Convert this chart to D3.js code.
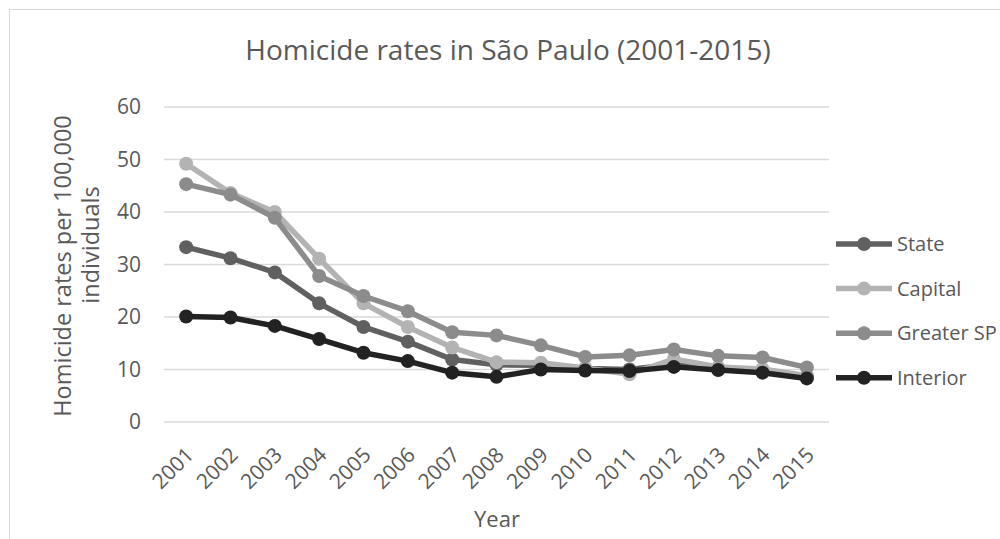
<!DOCTYPE html>
<html>
<head>
<meta charset="utf-8">
<script src="https://cdn.jsdelivr.net/npm/d3@7"></script>
<style>
  html, body { margin: 0; padding: 0; background: #ffffff; }
  svg { display: block; font-family: "Open Sans", sans-serif; }
</style>
</head>
<body>
<svg id="chart" width="1000" height="539"></svg>
<script>
// Homicide rates per 100,000 individuals, São Paulo, 2001-2015
const years = ["2001","2002","2003","2004","2005","2006","2007","2008","2009","2010","2011","2012","2013","2014","2015"];
const stateRates    = [33.3, 31.2, 28.5, 22.6, 18.1, 15.3, 11.9, 10.9, 10.8, 10.2, 10.0, 11.0, 10.3, 9.9, 8.7];
const capitalRates  = [49.2, 43.6, 40.0, 31.1, 22.6, 18.1, 14.2, 11.4, 11.3, 10.3, 9.1, 12.0, 10.5, 10.1, 8.8];
const greaterRates  = [45.3, 43.3, 38.9, 27.8, 24.0, 21.1, 17.1, 16.5, 14.6, 12.4, 12.7, 13.8, 12.6, 12.3, 10.4];
const interiorRates = [20.1, 19.9, 18.3, 15.8, 13.2, 11.6, 9.4, 8.6, 10.0, 9.8, 9.7, 10.5, 9.9, 9.4, 8.3];
const seriesNames = ["State", "Capital", "Greater SP", "Interior"];
const yTicks = [0, 10, 20, 30, 40, 50, 60];

const seriesColors = ["#606060", "#b3b3b3", "#8c8c8c", "#222222"];
const series = [stateRates, capitalRates, greaterRates, interiorRates].map((vals, i) => ({
  name: seriesNames[i],
  color: seriesColors[i],
  values: vals.map((v, j) => ({ year: years[j], value: v }))
}));

const svg = d3.select("#chart");
const textColor = "#595959";

// chart frame
svg.append("rect")
  .attr("x", 9.5).attr("y", 9.5)
  .attr("width", 1000).attr("height", 600)
  .attr("fill", "none").attr("stroke", "#d9d9d9").attr("stroke-width", 1);

const plot = { left: 164, right: 829, top: 107, bottom: 422 };

const x = d3.scalePoint().domain(years).range([plot.left, plot.right]).padding(0.5);
const y = d3.scaleLinear().domain([0, 60]).range([plot.bottom, plot.top]);

// horizontal gridlines
svg.append("g")
  .selectAll("line")
  .data(yTicks)
  .join("line")
  .attr("x1", plot.left).attr("x2", plot.right)
  .attr("y1", d => y(d)).attr("y2", d => y(d))
  .attr("stroke", "#d9d9d9").attr("stroke-width", 1.5);

// y axis labels
const yAxis = svg.append("g")
  .attr("transform", `translate(${plot.left - 23},0)`)
  .call(d3.axisLeft(y).tickValues(yTicks).tickSize(0).tickPadding(0));
yAxis.select(".domain").remove();
yAxis.selectAll("text")
  .attr("fill", textColor)
  .style("font-size", "21px")
  .style("font-family", "'Open Sans', sans-serif");

// x axis labels, rotated
const xAxis = svg.append("g")
  .attr("transform", `translate(0,${plot.bottom})`)
  .call(d3.axisBottom(x).tickSize(0).tickPadding(0));
xAxis.select(".domain").remove();
xAxis.selectAll("text")
  .attr("fill", textColor)
  .style("font-size", "21px")
  .style("font-family", "'Open Sans', sans-serif")
  .attr("text-anchor", "end")
  .attr("y", 0).attr("dy", "0.35em")
  .attr("transform", "translate(3,29) rotate(-45)");

// lines and markers
const line = d3.line().x(d => x(d.year)).y(d => y(d.value));
const seriesG = svg.append("g")
  .selectAll("g")
  .data(series)
  .join("g");
seriesG.append("path")
  .attr("d", d => line(d.values))
  .attr("fill", "none")
  .attr("stroke", d => d.color)
  .attr("stroke-width", 5.5)
  .attr("stroke-linejoin", "round")
  .attr("stroke-linecap", "round");
seriesG.selectAll("circle")
  .data(d => d.values.map(v => ({ ...v, color: d.color })))
  .join("circle")
  .attr("cx", d => x(d.year))
  .attr("cy", d => y(d.value))
  .attr("r", 7)
  .attr("fill", d => d.color);

// title
svg.append("text")
  .attr("x", 508).attr("y", 60)
  .attr("text-anchor", "middle")
  .attr("fill", textColor)
  .style("font-size", "28px")
  .text("Homicide rates in São Paulo (2001-2015)");

// axis titles
svg.append("text")
  .attr("x", 497).attr("y", 527)
  .attr("text-anchor", "middle")
  .attr("fill", textColor)
  .style("font-size", "22px")
  .text("Year");

const yTitle = svg.append("g")
  .attr("fill", textColor)
  .style("font-size", "23.5px");
yTitle.append("text")
  .attr("transform", "translate(71,266) rotate(-90)")
  .attr("text-anchor", "middle")
  .text("Homicide rates per 100,000");
yTitle.append("text")
  .attr("transform", "translate(99,245) rotate(-90)")
  .attr("text-anchor", "middle")
  .text("individuals");

// legend
const legend = svg.append("g")
  .selectAll("g")
  .data(series)
  .join("g")
  .attr("transform", (d, i) => `translate(836,${244 + i * 44.6})`);
legend.append("line")
  .attr("x1", 0).attr("x2", 56)
  .attr("stroke", d => d.color).attr("stroke-width", 5.5);
legend.append("circle")
  .attr("cx", 28).attr("r", 7)
  .attr("fill", d => d.color);
legend.append("text")
  .attr("x", 61).attr("dy", "0.35em")
  .attr("fill", textColor)
  .style("font-size", "20px")
  .text(d => d.name);
</script>
</body>
</html>
